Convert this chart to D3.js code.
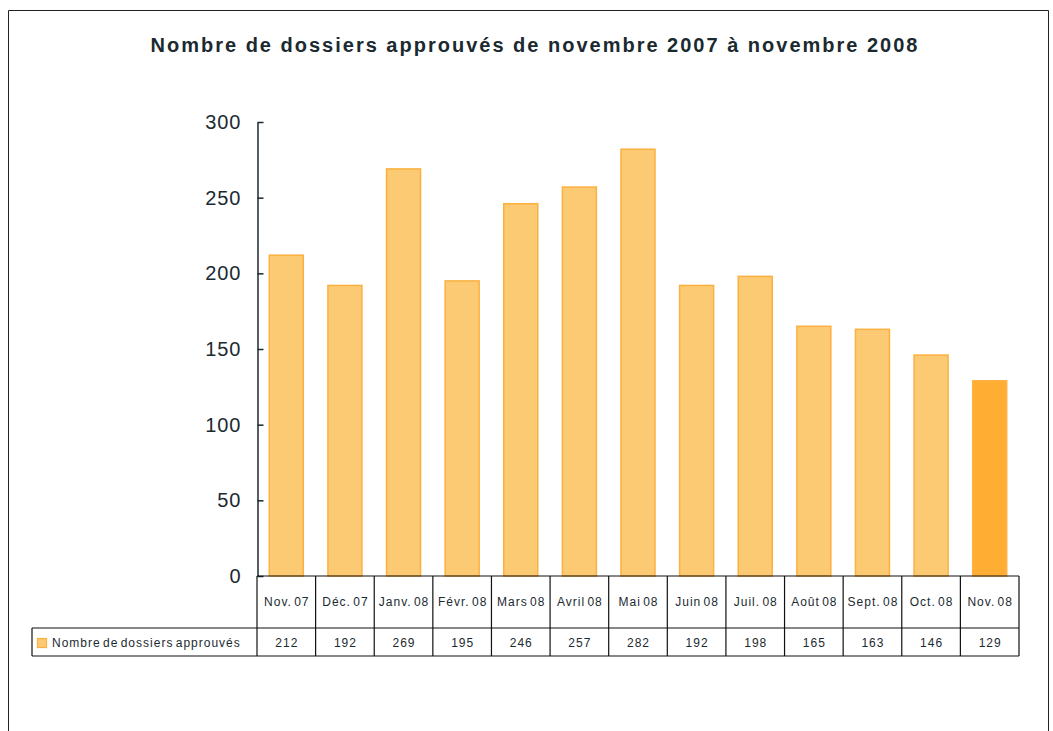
<!DOCTYPE html>
<html>
<head>
<meta charset="utf-8">
<script src="https://cdn.jsdelivr.net/npm/d3@7"></script>
<style>
  body { margin: 0; background: #fff; }
  svg text { font-family: "Liberation Sans", Arial, sans-serif; fill: #1b2a30; }
</style>
</head>
<body>
<div id="chart"></div>
<script>
var months = ["Nov. 07", "Déc. 07", "Janv. 08", "Févr. 08", "Mars 08", "Avril 08", "Mai 08",
              "Juin 08", "Juil. 08", "Août 08", "Sept. 08", "Oct. 08", "Nov. 08"];
var approved = [212, 192, 269, 195, 246, 257, 282, 192, 198, 165, 163, 146, 129];
var yTicks = [0, 50, 100, 150, 200, 250, 300];
var seriesName = "Nombre de dossiers approuvés";
var title = "Nombre de dossiers approuvés de novembre 2007 à novembre 2008";

var W = 1053, H = 731;
var margin = { top: 122, left: 257, right: 34 };
var plotBottom = 576;

var svg = d3.select("#chart").append("svg").attr("width", W).attr("height", H);

// outer frame
svg.append("path")
    .attr("d", "M8.5," + H + "V10.5H1048.5V" + H)
    .attr("fill", "none").attr("stroke", "#222").attr("stroke-width", 1);

svg.append("text")
    .attr("x", 535).attr("y", 52)
    .attr("text-anchor", "middle")
    .attr("font-size", "20px").attr("font-weight", "bold")
    .attr("letter-spacing", "2px")
    .text(title);

var x = d3.scaleBand()
    .domain(months)
    .range([margin.left, W - margin.right])
    .paddingInner(0.42).paddingOuter(0.21);

var cols = d3.scaleBand().domain(months).range([margin.left, W - margin.right]);

var y = d3.scaleLinear().domain([0, 300]).range([plotBottom, margin.top]);

var g = svg.append("g");

g.selectAll("rect.bar")
    .data(approved)
    .enter().append("rect")
    .attr("class", "bar")
    .attr("x", function (d, i) { return x(months[i]); })
    .attr("y", function (d) { return y(d); })
    .attr("width", x.bandwidth())
    .attr("height", function (d) { return plotBottom - y(d); })
    .attr("fill", function (d, i) { return i == months.length - 1 ? "#ffad33" : "#fdca74"; })
    .attr("stroke", function (d, i) { return i == months.length - 1 ? "#ffb240" : "#fbb040"; })
    .attr("stroke-width", 1.5);

var yAxis = svg.append("g")
    .attr("transform", "translate(" + (margin.left + 0.5) + ",0)")
    .call(d3.axisLeft(y).tickValues(yTicks).tickSize(-6).tickPadding(16).tickSizeOuter(0));
yAxis.selectAll("text")
    .attr("font-size", "20px")
    .attr("letter-spacing", "1px")
    .attr("font-family", "Liberation Sans, Arial, sans-serif")
    .attr("fill", "#1b2a30");
yAxis.selectAll("line, path").attr("stroke", "#1b2a30").attr("stroke-width", 1.5);

// data table
var rowTop = plotBottom, rowMid = 628, rowBot = 656, tableLeft = 32;
var tbl = svg.append("g").attr("stroke", "#111").attr("stroke-width", 1.2).attr("fill", "none");
tbl.append("line").attr("x1", cols(months[0])).attr("x2", W - margin.right).attr("y1", rowTop).attr("y2", rowTop);
tbl.append("line").attr("x1", tableLeft).attr("x2", W - margin.right).attr("y1", rowMid).attr("y2", rowMid);
tbl.append("line").attr("x1", tableLeft).attr("x2", W - margin.right).attr("y1", rowBot).attr("y2", rowBot);
tbl.append("line").attr("x1", tableLeft).attr("x2", tableLeft).attr("y1", rowMid).attr("y2", rowBot);
tbl.selectAll("line.v")
    .data(months.concat(["end"]))
    .enter().append("line")
    .attr("x1", function (d, i) { return i < months.length ? cols(d) : W - margin.right; })
    .attr("x2", function (d, i) { return i < months.length ? cols(d) : W - margin.right; })
    .attr("y1", rowTop).attr("y2", rowBot);

svg.selectAll("text.month")
    .data(months)
    .enter().append("text")
    .attr("x", function (d) { return cols(d) + cols.bandwidth() / 2 + 0.5; })
    .attr("y", 606)
    .attr("text-anchor", "middle")
    .attr("font-size", "12px")
    .attr("letter-spacing", "1px")
    .attr("word-spacing", "-2px")
    .text(function (d) { return d; });

svg.selectAll("text.val")
    .data(approved)
    .enter().append("text")
    .attr("x", function (d, i) { return cols(months[i]) + cols.bandwidth() / 2 + 0.5; })
    .attr("y", 647)
    .attr("text-anchor", "middle")
    .attr("font-size", "12px")
    .attr("letter-spacing", "1px")
    .text(function (d) { return d; });

svg.append("rect")
    .attr("x", 37.5).attr("y", 638.5).attr("width", 9).attr("height", 9)
    .attr("fill", "#fdca74").attr("stroke", "#fbb040").attr("stroke-width", 1.2);
svg.append("text")
    .attr("x", 52).attr("y", 647)
    .attr("font-size", "12px")
    .attr("letter-spacing", "1px")
    .attr("word-spacing", "-2px")
    .text(seriesName);
</script>
</body>
</html>
